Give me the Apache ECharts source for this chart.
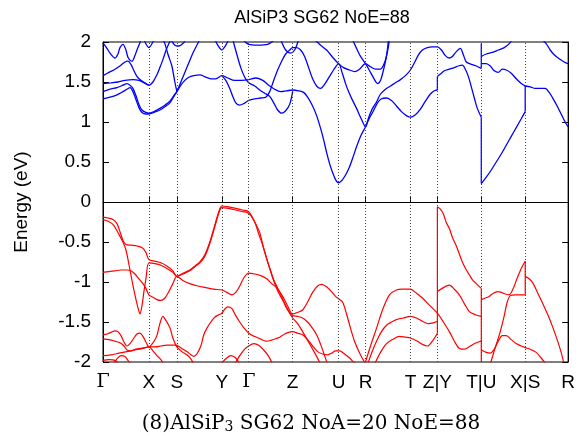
<!DOCTYPE html>
<html><head><meta charset="utf-8">
<script src="https://cdn.jsdelivr.net/npm/echarts@6/dist/echarts.min.js"></script>
<style>html,body{margin:0;padding:0;background:#fff}#c{width:578px;height:438px}</style>
</head><body><div id="c"></div>
<script>
// k-path positions (path distance units) and labels
const kPos = [0, 46, 74, 119, 146, 190, 236, 263, 308, 335, 379, 423, 466];
const kLabels = ['Γ', 'X', 'S', 'Y', 'Γ', 'Z', 'U', 'R', 'T', 'Z|Y', 'T|U', 'X|S', 'R'];
const yTicks = [-2, -1.5, -1, -0.5, 0, 0.5, 1, 1.5, 2];

// ---- conduction bands (blue), [k, E(eV)] ----
const b1 = [[0,1.29],[7,1.31],[14,1.34],[20,1.38],[24,1.41],[27,1.43],[30,1.38],[33,1.28],[36,1.18],[39,1.12],[43,1.1],[46,1.1],[51,1.12],[57,1.15],[62,1.19],[67,1.24],[71,1.32],[74,1.38],[78,1.46],[82,1.52],[86,1.56],[91,1.58],[97,1.59],[103,1.56],[108,1.54],[113,1.54],[119,1.58],[125,1.55],[132,1.52],[139,1.52],[146,1.53],[153,1.55],[160,1.52],[166,1.46],[172,1.41],[178,1.38],[184,1.39],[190,1.40],[196,1.39],[201,1.37],[205,1.31],[210,1.2],[214,1.08],[218,0.92],[221,0.78],[224,0.62],[227,0.48],[230,0.37],[233,0.28],[236,0.24],[240,0.28],[244,0.36],[247,0.44],[251,0.58],[254,0.69],[258,0.82],[263,0.94],[267,1.05],[271,1.14],[275,1.24],[279,1.29],[284,1.30],[289,1.27],[294,1.2],[299,1.13],[304,1.08],[308,1.06],[313,1.09],[318,1.16],[323,1.26],[328,1.35],[332,1.39],[335,1.40]];
const b1b = [[335,1.57],[338,1.6],[342,1.64],[347,1.66],[352,1.68],[356,1.7],[360,1.71],[363,1.66],[366,1.57],[369,1.44],[372,1.3],[375,1.17],[379,1.06]];
const b1c = [[379,0.23],[384,0.31],[389,0.4],[394,0.5],[399,0.6],[404,0.71],[409,0.82],[414,0.93],[419,1.04],[423,1.13]];
const b1d = [[423,1.45],[428,1.44],[433,1.42],[438,1.42],[443,1.42],[447,1.37],[451,1.29],[455,1.2],[459,1.1],[463,1.0],[466,0.94]];
const b2 = [[0,1.38],[7,1.41],[14,1.43],[20,1.46],[24,1.48],[27,1.46],[30,1.42],[33,1.33],[36,1.22],[39,1.15],[43,1.12],[46,1.11],[51,1.13],[57,1.17],[62,1.21],[67,1.26],[71,1.33],[74,1.38],[78,1.5],[82,1.62],[86,1.74],[90,1.86],[94,1.96],[97,2.03]];
const b3 = [[0,1.48],[8,1.49],[15,1.5],[22,1.52],[30,1.53],[36,1.52],[41,1.49],[46,1.46],[50,1.5],[54,1.59],[57,1.68],[60,1.78],[63,1.89],[66,1.98],[68,2.03]];
const b4 = [[0,1.58],[6,1.62],[12,1.66],[18,1.71],[22,1.75],[25,1.76],[28,1.72],[31,1.64],[34,1.57],[37,1.53],[42,1.49],[46,1.46]];
const b5 = [[0,1.99],[4,1.92],[7,1.86],[12,1.8],[15,1.85],[17,1.93],[20,1.97],[23,1.9],[25,1.81],[29,1.76],[32,1.83],[34,1.9],[37,1.99],[38,2.03]];
const b6 = [[41,2.03],[46,1.93],[51,2.03]];
const b7 = [[60,2.03],[62,1.98],[65,1.85],[69,1.7],[72,1.5],[74,1.38]];
const b8 = [[68,2.03],[72,1.96],[76,1.95],[80,1.98],[83,2.03]];
const b9 = [[112,2.03],[116,1.94],[119,1.9],[122,1.94],[126,2.03]];
const b10 = [[119,1.58],[123,1.52],[127,1.42],[130,1.32],[133,1.24],[137,1.21],[141,1.23],[146,1.27],[152,1.29],[158,1.30],[163,1.31],[167,1.38],[171,1.52],[175,1.65],[179,1.76],[183,1.85],[187,1.9],[190,1.93],[194,1.93],[198,1.9],[202,1.82],[206,1.68],[210,1.54],[214,1.45],[218,1.42],[222,1.47],[227,1.57],[231,1.65],[236,1.73],[240,1.6],[243,1.48],[246,1.38],[250,1.27],[254,1.17],[258,1.06],[263,0.94],[266,1.05],[270,1.17],[274,1.25],[278,1.35],[283,1.41],[288,1.45],[293,1.49],[298,1.53],[303,1.58],[308,1.65],[312,1.74],[316,1.84],[320,1.9],[325,1.93],[330,1.94],[335,1.94],[339,1.9],[343,1.83],[347,1.8],[350,1.82],[354,1.88],[358,1.92],[361,1.84],[364,1.75],[369,1.72],[374,1.7],[379,1.67]];
const b11 = [[130,2.03],[134,1.85],[138,1.68],[142,1.56],[146,1.49],[152,1.45],[157,1.40],[162,1.36],[167,1.32],[171,1.24],[175,1.15],[179,1.11],[183,1.14],[187,1.22],[190,1.38]];
const b12 = [[140,2.03],[146,1.97],[155,1.96],[165,1.97],[172,2.03]];
const b13 = [[178,2.03],[183,1.9],[188,1.86],[192,1.9],[196,2.03]];
const b14 = [[212,2.03],[218,1.96],[224,1.9],[230,1.81],[236,1.73],[241,1.68],[247,1.65],[252,1.63],[257,1.66],[263,1.73],[268,1.69],[273,1.66],[278,1.66],[282,1.74],[285,1.88],[287,2.03]];
const b15 = [[250,2.03],[254,1.92],[258,1.82],[263,1.73],[268,1.62],[272,1.53],[275,1.48],[278,1.52],[281,1.65],[284,1.82],[286,2.03]];
const b17 = [[379,1.82],[384,1.85],[390,1.87],[396,1.9],[402,1.93],[407,1.98],[410,2.03]];
const b18 = [[379,1.73],[384,1.73],[388,1.7],[392,1.64],[396,1.62],[400,1.66],[404,1.65],[409,1.61],[414,1.54],[419,1.48],[423,1.45]];
const b19 = [[440,2.03],[444,1.98],[448,1.9],[452,1.84],[457,1.79],[462,1.75],[466,1.73]];
const blueJumps = [[335,1.40,1.57],[379,1.06,0.23],[379,1.67,1.98],[423,1.13,1.45]];

// ---- valence bands (red), [k, E(eV)] ----
const rA = [[0,-0.19],[5,-0.2],[10,-0.22],[14,-0.27],[17,-0.37],[20,-0.48],[23,-0.53],[28,-0.54],[34,-0.55],[39,-0.57],[43,-0.63],[46,-0.72],[52,-0.74],[58,-0.76],[64,-0.8],[70,-0.86],[74,-0.93],[80,-0.89],[87,-0.85],[93,-0.79],[97,-0.75],[102,-0.66],[107,-0.5],[112,-0.29],[116,-0.12],[119,-0.05],[126,-0.06],[133,-0.08],[140,-0.1],[146,-0.12],[150,-0.2],[154,-0.3],[157,-0.38],[161,-0.58],[165,-0.75],[168,-0.86],[171,-0.97],[174,-1.05],[179,-1.18],[184,-1.33],[190,-1.42],[195,-1.43],[200,-1.45],[205,-1.5],[210,-1.58],[214,-1.66],[218,-1.78],[222,-1.92],[225,-2.03]];
const rB = [[0,-0.22],[5,-0.24],[10,-0.28],[14,-0.36],[17,-0.43],[20,-0.5],[23,-0.6],[26,-0.78],[29,-0.98],[32,-1.16],[35,-1.32],[37,-1.40],[39,-1.3],[41,-1.12],[43,-0.96],[46,-0.76],[52,-0.77],[58,-0.79],[64,-0.83],[70,-0.88],[74,-0.93],[80,-0.9],[87,-0.86],[93,-0.8],[97,-0.76],[102,-0.68],[107,-0.52],[112,-0.31],[116,-0.14],[119,-0.07],[126,-0.08],[133,-0.1],[140,-0.12],[146,-0.14],[152,-0.25],[156,-0.4],[160,-0.54],[165,-0.75],[170,-0.95],[174,-1.08],[177,-1.16],[182,-1.27],[187,-1.39],[190,-1.45],[195,-1.52],[200,-1.62],[205,-1.73],[210,-1.84],[214,-1.93],[218,-2.03]];
const rC = [[0,-0.88],[6,-0.87],[12,-0.86],[18,-0.85],[24,-0.85],[28,-0.86],[32,-0.9],[36,-0.96],[40,-1.02],[43,-1.08],[46,-1.16],[50,-1.19],[54,-1.22],[58,-1.23],[62,-1.2],[66,-1.12],[70,-1.02],[74,-0.93],[80,-0.98],[87,-1.02],[95,-1.05],[103,-1.07],[111,-1.09],[119,-1.1],[124,-1.13],[129,-1.16],[133,-1.13],[137,-1.05],[141,-0.95],[146,-0.89],[152,-0.9],[158,-0.92],[164,-0.96],[169,-1.02],[174,-1.07],[180,-1.18],[185,-1.3],[190,-1.40],[195,-1.38],[200,-1.35],[205,-1.25],[210,-1.13],[215,-1.05],[219,-1.03],[224,-1.06],[229,-1.12],[233,-1.18],[236,-1.21],[240,-1.25],[244,-1.4],[248,-1.58],[252,-1.74],[256,-1.86],[260,-1.96],[263,-2.02]];
const rE = [[0,-1.66],[4,-1.65],[8,-1.63],[12,-1.61],[15,-1.62],[18,-1.67],[21,-1.75],[24,-1.8],[27,-1.77],[31,-1.7],[34,-1.65],[37,-1.64],[40,-1.68],[43,-1.75],[46,-1.81],[50,-1.76],[54,-1.67],[57,-1.52],[60,-1.43],[63,-1.48],[67,-1.57],[70,-1.7],[74,-1.81],[79,-1.87],[84,-1.91],[88,-1.96],[91,-2.03]];
const rF = [[74,-1.79],[79,-1.83],[84,-1.87],[88,-1.91],[91,-1.93],[94,-1.9],[98,-1.8],[101,-1.66],[104,-1.58],[108,-1.5],[112,-1.44],[116,-1.41],[119,-1.39],[122,-1.34],[125,-1.31],[129,-1.33],[133,-1.42],[137,-1.5],[141,-1.57],[146,-1.64],[150,-1.67],[154,-1.69],[159,-1.72],[164,-1.74],[168,-1.73],[173,-1.71],[177,-1.69],[182,-1.65],[186,-1.63],[190,-1.62],[195,-1.64],[200,-1.66],[205,-1.72],[210,-1.8],[215,-1.87],[220,-1.9],[225,-1.91],[229,-1.89],[233,-1.86],[237,-1.86],[242,-1.9],[247,-1.95],[251,-2.0],[254,-2.03]];
const rG = [[0,-1.92],[8,-1.91],[16,-1.89],[24,-1.87],[32,-1.85],[40,-1.83],[46,-1.81],[52,-1.81],[58,-1.8],[64,-1.79],[70,-1.79],[74,-1.79]];
const rH = [[0,-1.71],[6,-1.72],[12,-1.74],[17,-1.76],[21,-1.8],[24,-1.85],[28,-1.86],[33,-1.84],[38,-1.83],[42,-1.82],[46,-1.81],[50,-1.86],[54,-1.92],[58,-1.97],[61,-2.03]];
const rHump = [[10,-2.03],[14,-1.96],[18,-1.92],[22,-1.93],[25,-1.98],[28,-2.03]];
const rBot = [[0,-1.98],[6,-1.97],[12,-1.98],[16,-2.03]];
const rI = [[118,-2.03],[123,-1.96],[128,-1.92],[133,-1.95],[137,-2.03]];
const rJ = [[132,-2.03],[137,-1.92],[142,-1.84],[146,-1.8],[151,-1.77],[156,-1.79],[161,-1.85],[166,-1.93],[170,-2.03]];
const rG2 = [[263,-2.0],[268,-1.8],[274,-1.58],[280,-1.35],[287,-1.16],[294,-1.1],[300,-1.09],[308,-1.09],[314,-1.14],[320,-1.2],[327,-1.29],[335,-1.39],[341,-1.5],[347,-1.62],[352,-1.74],[357,-1.83],[362,-1.84],[368,-1.8],[374,-1.76],[379,-1.74]];
const rH2 = [[265,-2.03],[270,-1.86],[274,-1.74],[279,-1.62],[284,-1.54],[289,-1.5],[294,-1.47],[301,-1.45],[308,-1.43],[314,-1.45],[320,-1.49],[326,-1.52],[331,-1.51],[335,-1.49]];
const rI2 = [[272,-2.03],[278,-1.88],[284,-1.77],[290,-1.72],[297,-1.68],[303,-1.69],[308,-1.70],[315,-1.74],[320,-1.78],[325,-1.8],[330,-1.74],[335,-1.64]];
const rZY1 = [[335,-0.06],[338,-0.09],[341,-0.15],[344,-0.26],[347,-0.33],[350,-0.44],[354,-0.55],[357,-0.65],[360,-0.75],[364,-0.85],[367,-0.91],[370,-0.97],[374,-1.02],[379,-1.08]];
const rZY2 = [[335,-1.12],[341,-1.07],[347,-1.04],[352,-1.09],[357,-1.16],[362,-1.27],[367,-1.37],[373,-1.41],[379,-1.43]];
const rTU1 = [[379,-1.22],[383,-1.2],[387,-1.18],[391,-1.14],[395,-1.12],[399,-1.13],[403,-1.15],[407,-1.16],[411,-1.08],[415,-0.95],[419,-0.83],[423,-0.74]];
const rTU2 = [[388,-2.03],[391,-1.9],[394,-1.78],[398,-1.62],[402,-1.42],[405,-1.25],[408,-1.17],[413,-1.16],[418,-1.16],[423,-1.16]];
const rTU3 = [[379,-1.85],[384,-1.88],[388,-1.89],[392,-1.84],[396,-1.74],[400,-1.67],[404,-1.67],[409,-1.72],[414,-1.77],[419,-1.8],[423,-1.82],[428,-1.84],[434,-1.88],[439,-1.95],[444,-2.03]];
const rXS = [[423,-0.93],[427,-0.96],[431,-1.02],[436,-1.15],[441,-1.28],[446,-1.42],[451,-1.58],[455,-1.72],[459,-1.88],[462,-2.03]];
const redJumps = [[335,-1.64,-0.06],[379,-1.08,-2.0],[423,-0.74,-1.16]];

const blueBands = [b1, b1b, b1c, b1d, b2, b3, b4, b5, b6, b7, b8, b9, b10, b11, b12, b13, b14, b15, b17, b18, b19];
const redBands = [rA, rB, rC, rE, rF, rG, rH, rHump, rBot, rI, rJ, rG2, rH2, rI2, rZY1, rZY2, rTU1, rTU2, rTU3, rXS];

const BLUE = '#0000ff', RED = '#ff0000';
const series = [];
series.push({
  type: 'line', data: [], silent: true, z: 1,
  markLine: {
    silent: true, symbol: ['none', 'none'], label: {show: false}, animation: false,
    lineStyle: {color: '#444', type: [1, 2], width: 1},
    data: kPos.slice(1, -1).map(v => ({xAxis: v}))
      .concat([{yAxis: 0, lineStyle: {color: '#000', type: 'solid', width: 1}}])
  }
});
blueBands.forEach(d => series.push({type: 'line', data: d, showSymbol: false, smooth: 0.3, clip: true, silent: true, z: 3, lineStyle: {color: BLUE, width: 1.3}}));
redBands.forEach(d => series.push({type: 'line', data: d, showSymbol: false, smooth: 0.3, clip: true, silent: true, z: 3, lineStyle: {color: RED, width: 1.2}}));
blueJumps.forEach(j => series.push({type: 'line', data: [[j[0], j[1]], [j[0], j[2]]], showSymbol: false, clip: true, silent: true, z: 3, lineStyle: {color: BLUE, width: 1.3}}));
redJumps.forEach(j => series.push({type: 'line', data: [[j[0], j[1]], [j[0], j[2]]], showSymbol: false, clip: true, silent: true, z: 3, lineStyle: {color: RED, width: 1.2}}));

const FONT = 'Liberation Sans';
const FS = 19;
const chart = echarts.init(document.getElementById('c'));
chart.setOption({
  animation: false,
  backgroundColor: '#fff',
  grid: {left: 103, right: 9, top: 42, bottom: 76, show: true, borderColor: '#000', borderWidth: 1, backgroundColor: 'transparent'},
  xAxis: {
    type: 'value', min: 0, max: kPos[kPos.length - 1],
    axisLine: {show: true, lineStyle: {color: '#000', width: 1}},
    axisTick: {show: true, inside: true, length: 6, customValues: kPos, lineStyle: {color: '#000'}},
    axisLabel: {
      customValues: kPos, showMinLabel: true, showMaxLabel: true, hideOverlap: false,
      fontFamily: FONT, fontSize: FS, color: '#000', margin: 11,
      formatter: v => { const i = kPos.indexOf(v); const t = i >= 0 ? kLabels[i] : ''; return t === 'Γ' ? '{g|Γ}' : t; },
      rich: {g: {fontFamily: 'DejaVu Serif', fontSize: FS, color: '#000'}}
    },
    splitLine: {show: false}
  },
  yAxis: [{
    type: 'value', min: yTicks[0], max: yTicks[yTicks.length - 1], interval: 0.5,
    axisLine: {show: true, lineStyle: {color: '#000', width: 1}},
    axisTick: {show: true, inside: true, length: 6, lineStyle: {color: '#000'}},
    axisLabel: {fontFamily: FONT, fontSize: FS, color: '#000', margin: 12},
    splitLine: {show: false}
  }, {
    type: 'value', position: 'right', min: yTicks[0], max: yTicks[yTicks.length - 1], interval: 0.5,
    axisLine: {show: true, lineStyle: {color: '#000', width: 1}},
    axisTick: {show: true, inside: true, length: 6, lineStyle: {color: '#000'}},
    axisLabel: {show: false}, splitLine: {show: false}
  }],
  graphic: [
    {type: 'text', x: 322, y: 18, style: {text: 'AlSiP3 SG62 NoE=88', font: '18px "Liberation Sans"', fill: '#000', align: 'center', verticalAlign: 'middle'}},
    {type: 'text', x: 22, y: 202, rotation: Math.PI / 2, style: {text: 'Energy (eV)', font: '19px "Liberation Sans"', fill: '#000', align: 'center', verticalAlign: 'middle'}},
    {type: 'text', x: 311, y: 424, style: {
      text: '(8)AlSiP{sub|3} SG62 NoA=20 NoE=88',
      font: '20px "DejaVu Serif"', fill: '#000', align: 'center', verticalAlign: 'middle',
      rich: {sub: {fontSize: 14, fontFamily: 'DejaVu Serif', verticalAlign: 'bottom', lineHeight: 12, fill: '#000'}}
    }}
  ],
  series: series
});
</script></body></html>
